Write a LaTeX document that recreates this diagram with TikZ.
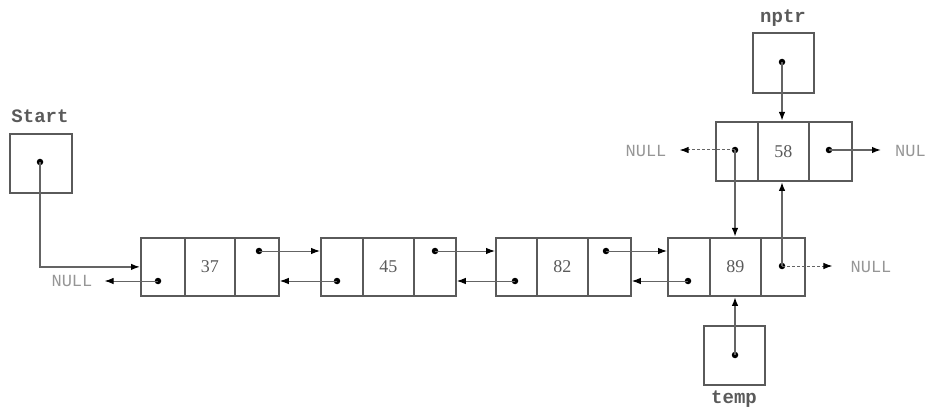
\documentclass[tikz,border=0pt]{standalone}
\usepackage{fontspec}
\setmainfont{Liberation Serif}
\newfontfamily\monofont{Liberation Mono}
\usetikzlibrary{arrows.meta}
\definecolor{boxgray}{RGB}{90,90,90}
\definecolor{linegray}{RGB}{100,100,100}
\definecolor{nullgray}{RGB}{150,150,150}
\begin{document}
\begin{tikzpicture}[x=1pt,y=-1pt,
  cell/.style={draw=boxgray, line width=1.8pt, minimum height=58pt, inner sep=0pt, anchor=north west, font=\fontsize{18}{18}\selectfont, text=boxgray},
  ptrbox/.style={draw=boxgray, line width=1.8pt, minimum width=61pt, minimum height=60pt, inner sep=0pt, anchor=north west},
  dotnode/.style={circle, fill=black, inner sep=0pt, minimum size=6.5pt},
  link/.style={draw=linegray, line width=1pt, -{Latex[length=9pt,width=6.5pt,color=black]}},
  thick link/.style={link, line width=1.8pt},
  dlink/.style={link, dash pattern=on 3pt off 2pt},
  nulltext/.style={font=\monofont\fontsize{17}{17}\selectfont, text=nullgray, inner sep=0pt},
  lbl/.style={font=\monofont\bfseries\fontsize{19}{19}\selectfont, text=boxgray, inner sep=0pt}
]
\useasboundingbox (0,0) rectangle (930,409);
% list node 1
\node[cell, minimum width=44pt] (n1a) at (140,237) {};
\node[cell, minimum width=50pt] (n1b) at (184,237) {37};
\node[cell, minimum width=44pt] (n1c) at (234,237) {};
% list node 2
\node[cell, minimum width=42pt] (n2a) at (320,237) {};
\node[cell, minimum width=51pt] (n2b) at (362,237) {45};
\node[cell, minimum width=42pt] (n2c) at (413,237) {};
% list node 3
\node[cell, minimum width=41pt] (n3a) at (495,237) {};
\node[cell, minimum width=51pt] (n3b) at (536,237) {82};
\node[cell, minimum width=43pt] (n3c) at (587,237) {};
% list node 4
\node[cell, minimum width=42pt] (n4a) at (667,237) {};
\node[cell, minimum width=51pt] (n4b) at (709,237) {89};
\node[cell, minimum width=44pt] (n4c) at (760,237) {};
% new node 58
\node[cell, minimum width=42pt, minimum height=59pt] (n5a) at (715,121) {};
\node[cell, minimum width=51pt, minimum height=59pt] (n5b) at (757,121) {58};
\node[cell, minimum width=43pt, minimum height=59pt] (n5c) at (808,121) {};
% pointer boxes
\node[ptrbox, minimum height=59pt, minimum width=62pt] (start) at (9,133) {};
\node[ptrbox] (nptr) at (752,32) {};
\node[ptrbox, minimum height=59pt] (temp) at (703,325) {};
\node[lbl] (startl) at (40,116) {Start};
\node[lbl] (nptrl) at (783,18) {nptr};
\node[lbl] (templ) at (734,399) {temp};
% NULL labels
\node[nulltext] (null1) at (72,281) {NULL};
\node[nulltext] (null5l) at (646,151) {NULL};
\node[nulltext] (null4) at (871,267) {NULL};
\node[nulltext, anchor=west] (null5r) at (895,151) {NUL};
% dots
\node[dotnode] (ds) at (40,162) {};
\node[dotnode] (dn) at (782,62) {};
\node[dotnode] (dt) at (735,355) {};
\node[dotnode] (d1a) at (158,281) {};
\node[dotnode] (d1c) at (259,251) {};
\node[dotnode] (d2a) at (337,281) {};
\node[dotnode] (d2c) at (435,251) {};
\node[dotnode] (d3a) at (515,281) {};
\node[dotnode] (d3c) at (606,251) {};
\node[dotnode] (d4a) at (688,281) {};
\node[dotnode] (d4c) at (782,266) {};
\node[dotnode] (d5a) at (735,150) {};
\node[dotnode] (d5c) at (829,150) {};
% connectors
\draw[thick link, line width=1.4pt] (ds.center) |- (n1a.west);
\draw[link, shorten >=12pt] (d1a.center) -- (d1a -| null1.east);
\draw[link] (d1c.center) -- (d1c -| n2a.west);
\draw[link] (d2a.center) -- (d2a -| n1c.east);
\draw[link] (d2c.center) -- (d2c -| n3a.west);
\draw[link] (d3a.center) -- (d3a -| n2c.east);
\draw[link] (d3c.center) -- (d3c -| n4a.west);
\draw[link] (d4a.center) -- (d4a -| n3c.east);
\draw[dlink, shorten >=18pt] (d4c.center) -- (d4c -| null4.west);
\draw[thick link] (d4c.center) -- (d4c |- n5b.south);
\draw[thick link] (d5a.center) -- (d5a |- n4b.north);
\draw[dlink, shorten >=13pt] (d5a.center) -- (d5a -| null5l.east);
\draw[thick link, line width=1.4pt, shorten >=14pt] (d5c.center) -- (d5c -| null5r.west);
\draw[thick link] (dn.center) -- (dn |- n5b.north);
\draw[thick link] (dt.center) -- (dt |- n4b.south);
\end{tikzpicture}
\end{document}
